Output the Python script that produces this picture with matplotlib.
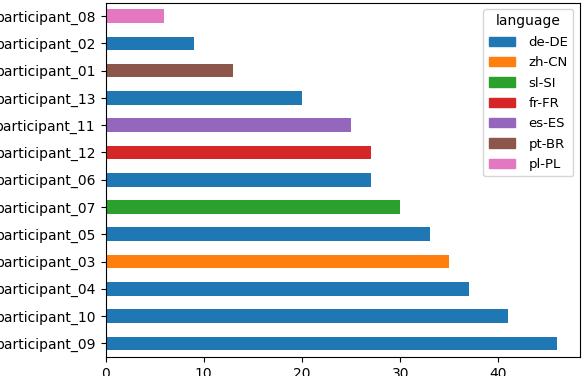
import matplotlib
matplotlib.use("Agg")
import matplotlib.pyplot as plt
from matplotlib.patches import Patch

participants = ["participant_09", "participant_10", "participant_04", "participant_03",
                "participant_05", "participant_07", "participant_06", "participant_12",
                "participant_11", "participant_13", "participant_01", "participant_02",
                "participant_08"]
counts = [46, 41, 37, 35, 33, 30, 27, 27, 25, 20, 13, 9, 6]
languages = ["de-DE", "de-DE", "de-DE", "zh-CN", "de-DE", "sl-SI", "de-DE", "fr-FR",
             "es-ES", "de-DE", "pt-BR", "de-DE", "pl-PL"]
legend_order = ["de-DE", "zh-CN", "sl-SI", "fr-FR", "es-ES", "pt-BR", "pl-PL"]

palette = ["#1f77b4", "#ff7f0e", "#2ca02c", "#d62728", "#9467bd", "#8c564b", "#e377c2"]
lang_color = {l: palette[i] for i, l in enumerate(legend_order)}

fig = plt.figure(figsize=(5.82, 3.76), dpi=100)
ax = fig.add_axes([105.5 / 582, 19 / 376, (580 - 105.5) / 582, (357 - 2.5) / 376])
ypos = list(range(len(participants)))
ax.barh(ypos, counts, height=0.5, color=[lang_color[l] for l in languages])
ax.set_yticks(ypos)
ax.set_yticklabels(participants)
ax.set_ylim(-0.5, len(participants) - 0.5)
ax.set_xlim(0, max(counts) * 1.05)
ax.set_xticks([0, 10, 20, 30, 40])

handles = [Patch(color=lang_color[l], label=l) for l in legend_order]
ax.legend(handles=handles, title="language", loc="upper right",
          fontsize=9.5, title_fontsize=10, handletextpad=1.0, labelspacing=0.56)

fig.savefig("out.png", dpi=100)
